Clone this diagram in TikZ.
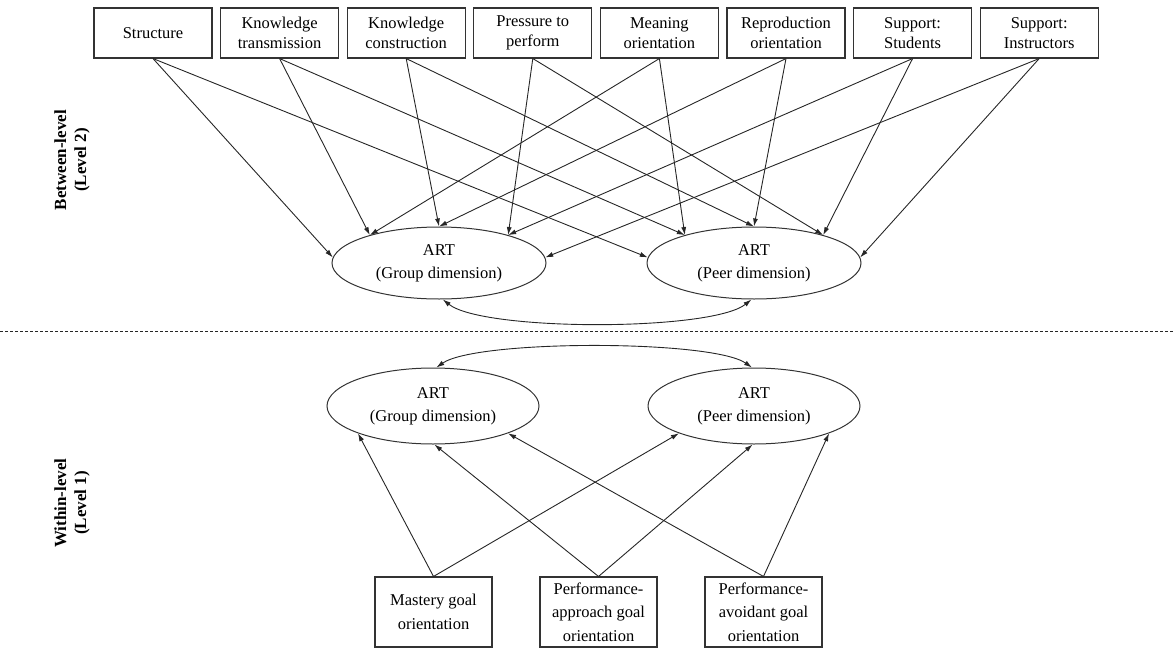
\documentclass[tikz,border=0pt]{standalone}
\usepackage{fontspec}
\setmainfont{Liberation Serif}
\usetikzlibrary{shapes.geometric,arrows.meta,calc}
\begin{document}
\begin{tikzpicture}[x=1pt,y=-1pt,
  every node/.style={text=black},
  topbox/.style={draw=black!80, line width=1.1pt, minimum width=118pt, minimum height=50pt, align=center, inner sep=0pt, font=\fontsize{16.5}{20}\selectfont},
  botbox/.style={draw=black!80, line width=1.1pt, minimum width=117pt, minimum height=70pt, align=center, inner sep=0pt, font=\fontsize{16.5}{23.5}\selectfont},
  latent/.style={draw=black!80, line width=1pt, ellipse, align=center, inner sep=0pt, font=\fontsize{16.5}{23}\selectfont},
  arr/.style={-{Latex[length=8pt,width=5pt]}, line width=0.9pt, draw=black!85},
  dblarr/.style={{Latex[length=8pt,width=5pt]}-{Latex[length=8pt,width=5pt]}, line width=0.9pt, draw=black!85},
  lvl/.style={rotate=90, align=center, font=\fontsize{17}{20}\selectfont\bfseries}
]
\useasboundingbox (0,0) rectangle (1173,648);

% top boxes
\node[topbox] (t1) at (153,33)    {Structure};
\node[topbox] (t2) at (279.6,33)  {Knowledge\\transmission};
\node[topbox] (t3) at (406.2,33)  {Knowledge\\construction};
\node[topbox] (t4) at (532.8,33)  {Pressure to\\perform};
\node[topbox] (t5) at (659.4,33)  {Meaning\\orientation};
\node[topbox] (t6) at (786,33)    {Reproduction\\orientation};
\node[topbox] (t7) at (912.6,33)  {Support:\\Students};
\node[topbox] (t8) at (1039.2,33) {Support:\\Instructors};

% level labels
\node[lvl] (lv2) at (72,160) {Between-level\\(Level 2)};
\node[lvl] (lv1) at (72,503) {Within-level\\(Level 1)};

% between-level latent variables
\node[latent, minimum width=214pt, minimum height=72pt] (g1) at (439,263) {ART\\(Group dimension)};
\node[latent, minimum width=214pt, minimum height=72pt] (p1) at (754,263) {ART\\(Peer dimension)};

% within-level latent variables
\node[latent, minimum width=212pt, minimum height=76pt] (g2) at (433,406) {ART\\(Group dimension)};
\node[latent, minimum width=212pt, minimum height=76pt] (p2) at (754,406) {ART\\(Peer dimension)};

% bottom boxes
\node[botbox] (b1) at (433.5,612) {Mastery goal\\orientation};
\node[botbox] (b2) at (598.5,612) {Performance-\\approach goal\\orientation};
\node[botbox] (b3) at (763.5,612) {Performance-\\avoidant goal\\orientation};

% separator
\coordinate (dl) at (0,331);
\coordinate (dr) at (1173,331);
\draw[black!85, line width=0.9pt, dash pattern=on 3pt off 2pt] (dl) -- (dr);

% between-level paths
\foreach \i/\a in {1/177,2/158,3/90,4/22,5/158,6/90,7/22,8/3} {
  \draw[arr] (t\i.south) -- (g1.\a);
  \draw[arr] (t\i.south) -- (p1.\a);
}
\draw[dblarr] (g1.276) .. controls ($(g1.276)+(40,32)$) and ($(p1.266)+(-40,32)$) .. (p1.266);

% within-level paths
\draw[arr] (b1.north) -- (g2.200);
\draw[arr] (b1.north) -- (p2.200);
\draw[arr] (b2.north) -- (g2.272);
\draw[arr] (b2.north) -- (p2.268);
\draw[arr] (b3.north) -- (g2.340);
\draw[arr] (b3.north) -- (p2.340);
\draw[dblarr] (g2.85) .. controls ($(g2.85)+(40,-28)$) and ($(p2.93)+(-40,-28)$) .. (p2.93);
\end{tikzpicture}
\end{document}
